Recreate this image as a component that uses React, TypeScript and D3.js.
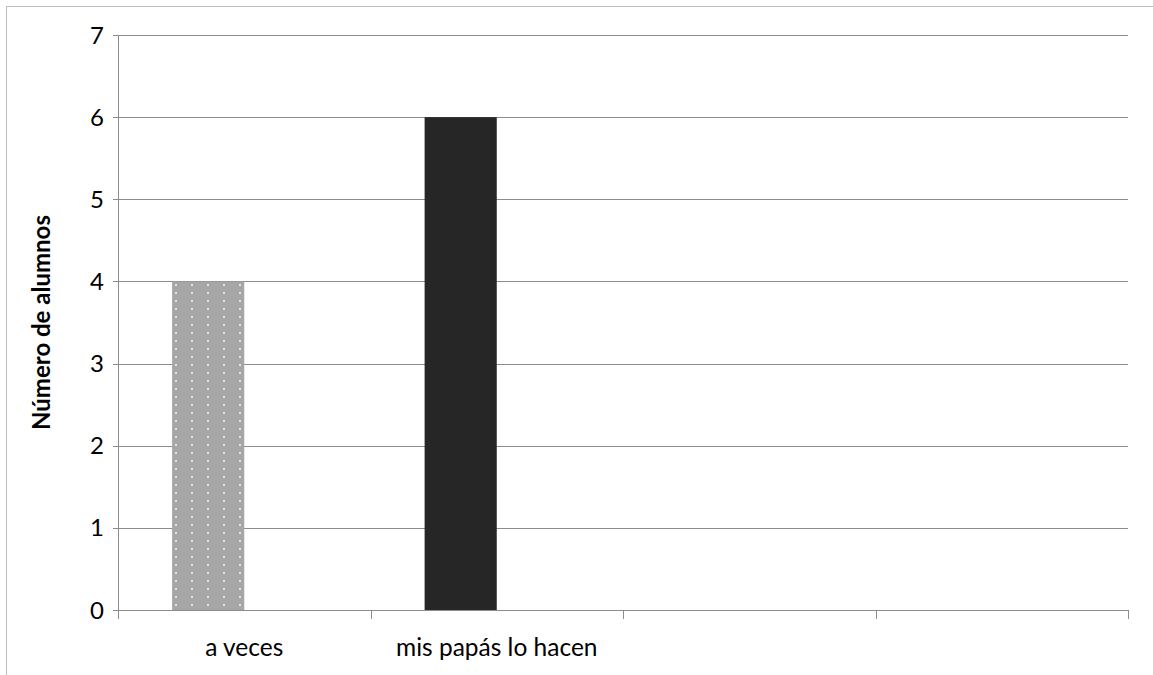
import React from "react";
import * as d3 from "d3";

const categories = ["a veces", "mis papás lo hacen", "", ""];
const values = [4, 6, 0, 0];
const barColors = ["url(#dots)", "#262626", "#262626", "#262626"];
const yTicks = [0, 1, 2, 3, 4, 5, 6, 7];
const yLabel = "Número de alumnos";

export default function App() {
  const W = 1153, H = 675;
  const left = 118, right = 1128, top = 35, bottom = 610;
  const x = d3.scaleBand<string>().domain(categories.map((c, i) => String(i))).range([left, right]).paddingInner(0).paddingOuter(0);
  const y = d3.scaleLinear().domain([0, 7]).range([bottom, top]);
  const bw = x.bandwidth();
  const barW = bw / 3.5;
  const font = "Lato, 'Open Sans', sans-serif";
  return (
    <svg width={W} height={H} style={{ position: "absolute", left: 0, top: 0 }}>
      <defs>
        <pattern id="dots" patternUnits="userSpaceOnUse" width={16} height={8} x={175} y={284}>
          <rect width={16} height={8} fill="#a6a6a6" />
          <rect x={0} y={0} width={2} height={2} fill="#e4e4e4" />
        </pattern>
      </defs>
      <rect x={0} y={0} width={W} height={H} fill="#fff" />
      <rect x={6.5} y={6.5} width={W + 10} height={H + 10} fill="none" stroke="#bdbdbd" strokeWidth={1} />
      {yTicks.map((t) => (
        <g key={t}>
          <line x1={left - 5} x2={right} y1={Math.round(y(t)) + 0.5} y2={Math.round(y(t)) + 0.5} stroke="#8c8c8c" strokeWidth={1} />
          <text x={104} y={y(t)} dy="0.36em" textAnchor="end" fontFamily={font} fontSize={24} fill="#000">{t}</text>
        </g>
      ))}
      {categories.map((c, i) => {
        const cx = (x(String(i)) as number) + bw / 2;
        const v = values[i];
        return (
          <g key={i}>
            {v > 0 && (
              <rect x={cx - barW} y={y(v)} width={barW} height={bottom - y(v)} fill={barColors[i]} />
            )}
            <text x={cx} y={656} textAnchor="middle" fontFamily={font} fontSize={24.5} fill="#000">{c}</text>
          </g>
        );
      })}
      <line x1={left + 0.5} x2={left + 0.5} y1={top} y2={bottom} stroke="#8c8c8c" />
      <line x1={left} x2={right} y1={bottom + 0.5} y2={bottom + 0.5} stroke="#8c8c8c" />
      {d3.range(categories.length + 1).map((i) => {
        const tx = Math.round(left + i * bw) + 0.5;
        return <line key={i} x1={tx} x2={tx} y1={bottom} y2={bottom + 9} stroke="#8c8c8c" />;
      })}
      <text transform={`translate(50,${(top + bottom) / 2}) rotate(-90)`} textAnchor="middle" fontFamily={font} fontWeight="bold" fontSize={24} fill="#000">{yLabel}</text>
    </svg>
  );
}
